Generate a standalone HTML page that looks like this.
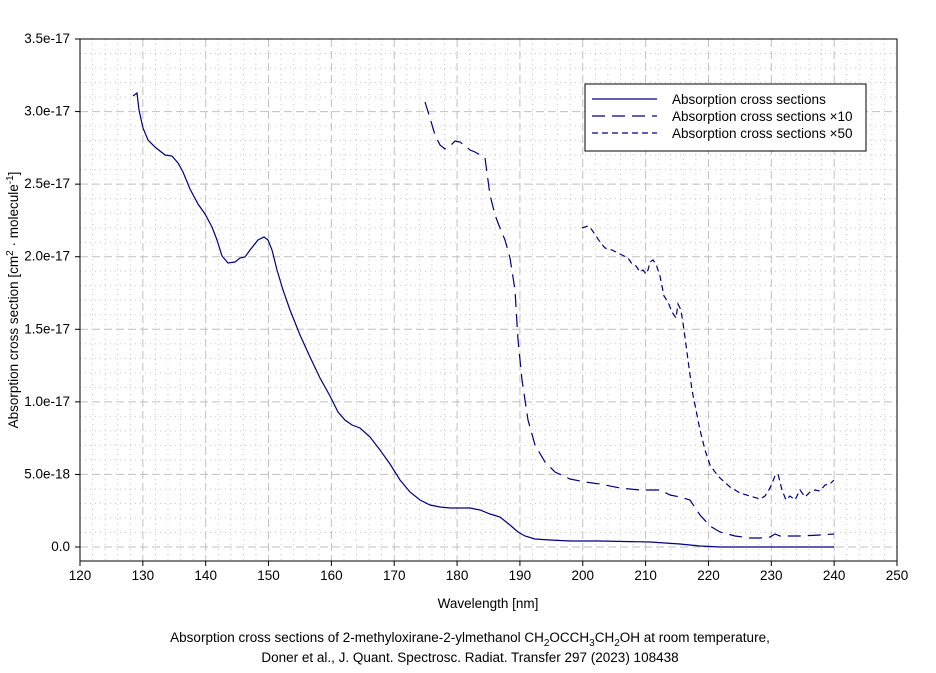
<!DOCTYPE html>
<html><head><meta charset="utf-8"><style>
body{margin:0;background:#fff;}
text{font-family:"Liberation Sans",sans-serif;font-size:13.5px;fill:#000;}
</style></head><body>
<svg id="s" width="936" height="668" xmlns="http://www.w3.org/2000/svg">
<rect width="936" height="668" fill="#fff"/>
<g id="grid"></g>
<rect x="80" y="39" width="817" height="522" fill="none" stroke="#000" stroke-width="1"/>
<g id="ticks"></g>
<text x="488" y="608" text-anchor="middle">Wavelength [nm]</text>
<text transform="translate(18,300) rotate(-90)" text-anchor="middle">Absorption cross section [cm<tspan dy="-5" font-size="10">2</tspan><tspan dy="5"> · molecule</tspan><tspan dy="-5" font-size="10">-1</tspan><tspan dy="5">]</tspan></text>
<text x="470" y="642" text-anchor="middle">Absorption cross sections of 2-methyloxirane-2-ylmethanol CH<tspan dy="4" font-size="10">2</tspan><tspan dy="-4">OCCH</tspan><tspan dy="4" font-size="10">3</tspan><tspan dy="-4">CH</tspan><tspan dy="4" font-size="10">2</tspan><tspan dy="-4">OH at room temperature,</tspan></text>
<text x="470" y="662" text-anchor="middle">Doner et al., J. Quant. Spectrosc. Radiat. Transfer 297 (2023) 108438</text>
<g id="series" fill="none" stroke="#000080" stroke-width="1.2"></g>
<rect x="585" y="84" width="281" height="67" fill="#fff" stroke="#000"/>
<line x1="592" y1="99" x2="657" y2="99" stroke="#000080" stroke-width="1.2"/>
<line x1="592" y1="116" x2="657" y2="116" stroke="#000080" stroke-width="1.2" stroke-dasharray="13,7"/>
<line x1="592" y1="133" x2="657" y2="133" stroke="#000080" stroke-width="1.2" stroke-dasharray="6,4"/>
<text x="672" y="104" font-size="14">Absorption cross sections</text>
<text x="672" y="121" font-size="14">Absorption cross sections ×10</text>
<text x="672" y="138" font-size="14">Absorption cross sections ×50</text>
</svg>
<script>
var ns="http://www.w3.org/2000/svg";
function el(p,t,a,txt){var e=document.createElementNS(ns,t);for(var k in a)e.setAttribute(k,a[k]);if(txt)e.textContent=txt;p.appendChild(e);return e;}
var g=document.getElementById('grid'),tk=document.getElementById('ticks');
function X(nm){return 80+(nm-120)*817/130;}
function Y(v){return 547-v*145.14;}
for(var nm=122;nm<250;nm+=2){var x=X(nm);var maj=nm%10==0;
 el(g,'line',{x1:x,x2:x,y1:39,y2:561,stroke:maj?'#c0c0c0':'#c8c8c8','stroke-width':1,'stroke-dasharray':maj?'8,4':'1,4'});}
for(var i=-1;i<35;i++){var v=i/10;var y=Y(v);if(y<40||y>560)continue;var maj=i%5==0;
 el(g,'line',{x1:80,x2:897,y1:y,y2:y,stroke:maj?'#c0c0c0':'#c8c8c8','stroke-width':1,'stroke-dasharray':maj?'8,4':'1,4'});}
for(var nm=120;nm<=250;nm+=10){var x=X(nm);el(tk,'line',{x1:x,x2:x,y1:561,y2:566,stroke:'#000'});el(tk,'text',{x:x,y:580,'text-anchor':'middle','font-size':11},String(nm));}
var yl=['0.0','5.0e-18','1.0e-17','1.5e-17','2.0e-17','2.5e-17','3.0e-17','3.5e-17'];
for(var i=0;i<8;i++){var y=Y(i*0.5);el(tk,'line',{x1:75,x2:80,y1:y,y2:y,stroke:'#000'});el(tk,'text',{x:70,y:y+4,'text-anchor':'end','font-size':10.5},yl[i]);}
var s1=[[133,96],[137,93],[139,110],[143,128],[148,140],[155,147],[165,155],[172,156],[178,163],[183,172],[190,189],[198,204],[205,214],[212,227],[217,240],[222,256],[228,263],[235,262],[240,258],[245,257],[250,250],[258,240],[264,237],[268,240],[272,250],[277,270],[283,290],[290,310],[300,335],[310,357],[320,378],[330,396],[338,412],[345,420],[352,425],[360,428],[370,437],[380,450],[390,464],[400,480],[410,492],[420,500],[430,505],[440,507],[450,508],[470,508],[480,510],[490,514],[500,517],[510,525],[518,532],[525,536],[535,539],[550,540],[570,541],[600,541],[650,542],[680,544],[700,546],[720,547],[834,547]];
var s2=[[425,102],[430,118],[435,135],[440,145],[445,149],[450,146],[455,141],[460,142],[465,146],[470,150],[475,152],[480,155],[485,158],[490,195],[495,215],[500,228],[505,240],[510,258],[515,290],[518,340],[522,380],[528,420],[535,445],[545,462],[555,472],[570,479],[585,482],[600,484],[620,488],[640,490],[660,490],[670,495],[680,497],[690,500],[700,515],[710,526],[720,532],[735,536],[750,538],[760,538],[770,537],[775,534],[780,536],[800,536],[820,535],[834,534]];
var s3=[[582,228],[588,226],[592,230],[596,236],[600,242],[605,248],[612,250],[620,254],[628,258],[632,264],[636,266],[640,272],[643,270],[646,274],[648,270],[650,262],[653,260],[656,264],[660,276],[664,296],[668,302],[672,312],[676,318],[678,304],[681,310],[684,330],[688,360],[692,390],[696,410],[700,430],[705,450],[710,465],[715,472],[720,478],[730,487],[740,493],[750,496],[760,499],[765,496],[770,488],[775,476],[778,474],[782,490],[786,500],[790,496],[795,500],[800,490],[805,497],[810,492],[815,490],[820,491],[825,485],[830,484],[834,480]];
var sg=document.getElementById('series');
function pl(p,d){var a={points:p.map(function(q){return q.join(',')}).join(' ')};if(d)a['stroke-dasharray']=d;el(sg,'polyline',a);}
pl(s1);pl(s2,'13,7');pl(s3,'6,4');
</script>
</body></html>
